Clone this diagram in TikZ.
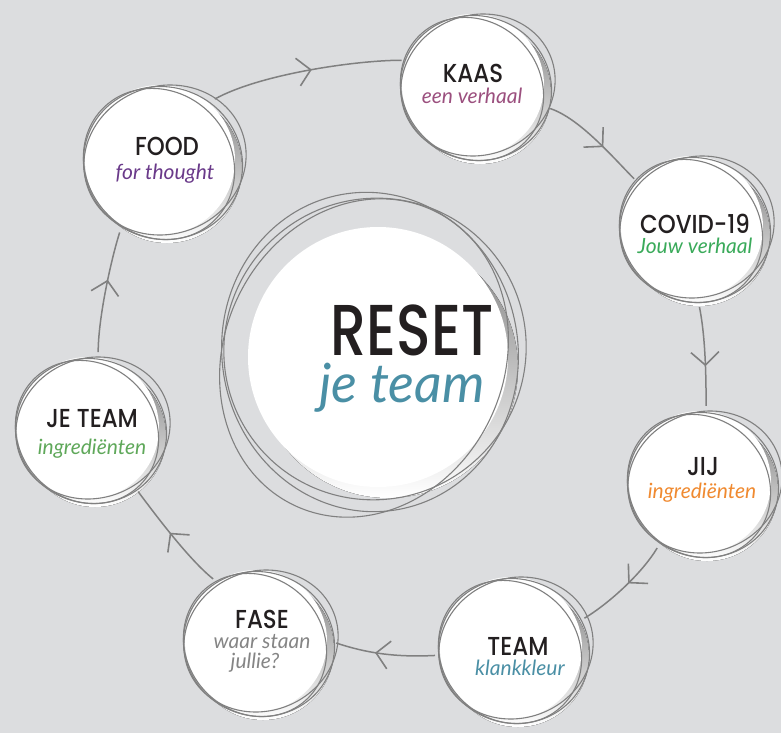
\documentclass[tikz,border=0pt]{standalone}
\usepackage{fontspec}
\usetikzlibrary{arrows.meta,decorations.markings}
\newfontfamily\tf{Poppins}[UprightFont=* Medium,FakeStretch=0.88]
\newfontfamily\hf{Lato}
\definecolor{bg}{HTML}{DCDDDF}
\definecolor{shade}{HTML}{CFD0D2}
\definecolor{linec}{HTML}{808080}
\definecolor{ink}{HTML}{231F20}
\definecolor{cmauve}{HTML}{9B4F7E}
\definecolor{cgreen}{HTML}{3AAA5A}
\definecolor{cpurple}{HTML}{6A3A8A}
\definecolor{cteal}{HTML}{4A8FA5}
\definecolor{corange}{HTML}{F08A30}
\definecolor{cgray}{HTML}{858585}
\definecolor{cleaf}{HTML}{5FA85A}
\newcommand\bubble[4]{%
  \fill[shade] (#2+5,#3+6) circle (#4-7);
  \fill[white] (#2-2,#3-2) circle (#4-7);
  \draw[sketch] (#2+3,#3-2) circle [x radius=#4, y radius=#4-8, rotate=20];
  \draw[sketch] (#2-3,#3+2) circle [x radius=#4-3, y radius=#4-10, rotate=-45];
  \draw[sketch] (#2+1,#3+1) circle [x radius=#4-6, y radius=#4-2, rotate=70];
  \node[hub, minimum size={2pt*#4}] (#1) at (#2,#3) {};
}
\begin{document}
\begin{tikzpicture}[x=1pt,y=-1pt,
  sketch/.style={draw=linec, line width=1.1pt},
  hub/.style={circle, inner sep=0pt, draw=none},
  conn/.style={draw=linec, color=linec, line width=1.5pt},
  midarrow/.style={postaction={decorate, decoration={markings,
     mark=at position #1 with {\arrow[line width=1.6pt]{Straight Barb[length=13pt,width=28pt]}}}}},
  ttl/.style={anchor=base, inner sep=0pt, font=\tf\fontsize{26}{28}\selectfont, text=ink},
  sub/.style={anchor=base, inner sep=0pt, font=\hf\itshape\fontsize{21}{22}\selectfont}]
\fill[bg] (0,0) rectangle (781,733);
\useasboundingbox (0,0) rectangle (781,733);

% central circle
\fill[shade] (388,368) circle (130);
\fill[white] (378,357) circle (130);
\draw[sketch] (370,352) circle [x radius=148, y radius=160, rotate=10];
\draw[sketch] (364,358) circle [x radius=140, y radius=163, rotate=-25];
\draw[sketch] (375,349) circle [x radius=152, y radius=150, rotate=40];
\node[hub, minimum size=300pt] (reset) at (372,355) {};
\node[anchor=base, inner sep=0pt, font=\tf\fontsize{72}{74}\selectfont, text=ink] (resett) at (412,355) {\scalebox{0.9}[1]{RESET}};
\node[anchor=base, inner sep=0pt, font=\hf\itshape\fontsize{54}{56}\selectfont, text=cteal] (resets) at (402,402) {je team};

\bubble{kaas}{475}{87}{78}
\bubble{covid}{694}{229}{78}
\bubble{jij}{702}{484}{78}
\bubble{team}{513}{650}{78}
\bubble{fase}{258}{643}{78}
\bubble{jeteam}{90}{430}{78}
\bubble{food}{162}{162}{82}

\node[ttl] (kaast) at (473,83) {KAAS};
\node[sub, text=cmauve] (kaass) at (472,104) {een verhaal};
\node[ttl] (covidt) at (695,233) {COVID-19};
\node[sub, text=cgreen] (covids) at (695,253) {Jouw verhaal};
\node[ttl] (foodt) at (167,155) {FOOD};
\node[sub, text=cpurple] (foods) at (165,179) {for thought};
\node[ttl] (jijt) at (703,475) {JIJ};
\node[sub, text=corange] (jijs) at (702,498) {ingrediënten};
\node[ttl] (teamt) at (518,655) {TEAM};
\node[sub, text=cteal] (teams) at (520,675) {klankkleur};
\node[ttl] (faset) at (262,628) {FASE};
\node[sub, text=cgray] (fases) at (262,648) {waar staan};
\node[sub, text=cgray] (fases2) at (255,668) {jullie?};
\node[ttl] (jeteamt) at (92,427) {JE TEAM};
\node[sub, text=cleaf] (jeteams) at (92,454) {ingrediënten};

% connectors
\draw[conn, midarrow=0.53] (food.50) .. controls +(45,-25) and +(-45,0) .. (kaas.160);
\draw[conn, midarrow=0.6] (kaas.-16) .. controls +(30,10) and +(-20,-20) .. (covid.140);
\draw[conn, midarrow=0.6] (covid.-86) .. controls +(6,30) and +(0,-30) .. (jij.87);
\draw[conn, midarrow=0.45] (jij.-125) .. controls +(-15,25) and +(25,-15) .. (team.24);
\draw[conn, midarrow=0.6] (team.184) .. controls +(-40,2) and +(30,10) .. (fase.0);
\draw[conn, midarrow=0.55] (fase.125) .. controls +(-25,-20) and +(15,20) .. (jeteam.-52);
\draw[conn, midarrow=0.6] (jeteam.84) .. controls +(0,-35) and +(-8,25) .. (food.-121);
\end{tikzpicture}
\end{document}
